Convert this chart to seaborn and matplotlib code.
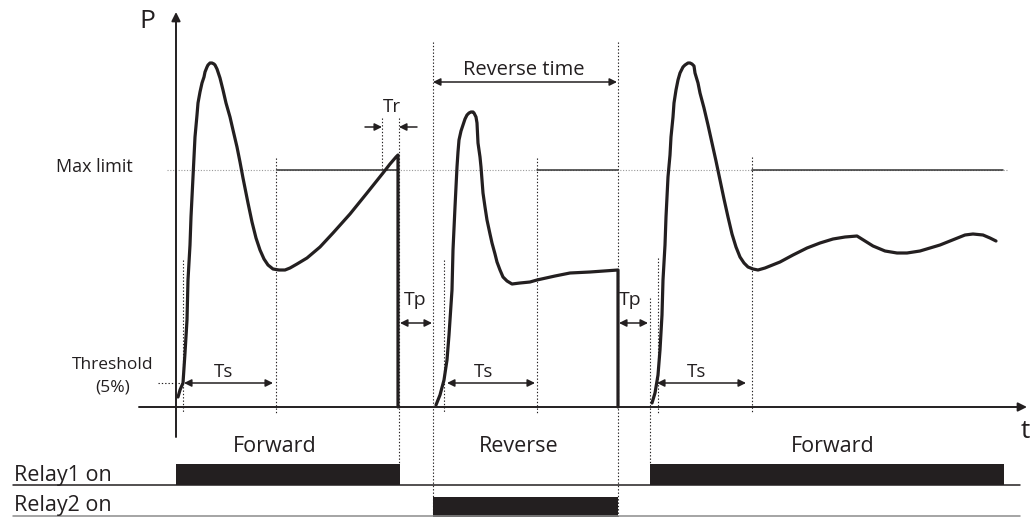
"""
Pressure / relay timing diagram (Forward - Reverse - Forward)
"""
import matplotlib
matplotlib.use("Agg")
import matplotlib.pyplot as plt
import seaborn as sns
import pandas as pd

# ---- data (pixel-ish units: x = time, y = P, axis at y=407, 0 at top) ----
# pulse 1 (forward, ends with max limit trip)
p1_x = [178, 180, 183, 185, 187, 188, 190, 191, 193, 195, 197, 198, 200, 202,
        204, 205, 207, 208, 210, 212, 214, 215, 217, 218, 220, 223, 226, 230,
        233, 237, 240, 243, 248, 252, 256, 260, 264, 268, 273, 279, 285, 290,
        297, 307, 320, 333, 350, 367, 383, 390, 396, 398, 398]
p1_y = [397, 390, 383, 353, 320, 280, 245, 217, 177, 137, 115, 103, 92, 83,
        77, 72, 67, 65, 63, 63, 64, 65, 69, 72, 78, 90, 103, 117, 130, 147,
        162, 178, 203, 222, 238, 250, 259, 265, 269, 270, 270, 268, 264, 258,
        247, 233, 214, 193, 173, 164, 157, 155, 407]
# pulse 2 (reverse)
p2_x = [436, 440, 444, 447, 449, 451, 452, 453, 455, 457, 458, 459, 461, 463,
        465, 467, 469, 471, 473, 474, 476, 477, 478, 480, 481, 483, 485, 487,
        490, 492, 495, 497, 500, 503, 507, 512, 520, 530, 537, 555, 570, 590,
        618, 618]
p2_y = [405, 395, 380, 360, 335, 305, 290, 250, 207, 167, 152, 140, 131, 125,
        119, 115, 113, 112, 112, 113, 117, 123, 143, 157, 167, 193, 207, 220,
        234, 243, 254, 262, 270, 277, 281, 284, 283, 282, 280, 276, 273, 272,
        270, 407]
# pulse 3 (forward again, settles under the limit)
p3_x = [652, 655, 658, 660, 662, 663, 665, 666, 668, 670, 671, 673, 674, 676,
        678, 680, 683, 685, 688, 690, 692, 694, 695, 698, 700, 704, 708, 712,
        716, 720, 724, 728, 732, 736, 740, 744, 748, 753, 758, 765, 770, 780,
        793, 807, 820, 833, 845, 857, 865, 873, 885, 897, 907, 920, 940, 955,
        965, 973, 983, 990, 996]
p3_y = [403, 393, 375, 350, 315, 280, 245, 217, 177, 155, 137, 117, 103, 90,
        80, 73, 67, 65, 63, 63, 64, 66, 73, 83, 93, 108, 125, 143, 161, 180,
        199, 217, 234, 247, 257, 263, 267, 269, 270, 268, 266, 262, 255, 248,
        243, 239, 237, 236, 241, 246, 251, 253, 253, 251, 245, 239, 235, 234,
        235, 238, 241]

max_limit_y = 170
max_limit_x = [(277, 398), (537, 618), (752, 1003)]

# relay on-intervals (start, end)
relay1_on = [(176, 400), (650, 1004)]
relay2_on = [(433, 618)]

# dotted markers (x, top, bottom)
marks_x = [183, 276, 382, 399, 433, 444, 537, 618, 650, 658, 752]
marks_top = [260, 158, 118, 118, 42, 260, 158, 42, 298, 258, 157]
marks_bot = [412, 413, 170, 464, 517, 413, 413, 517, 464, 413, 413]

phase_labels = ["Forward", "Reverse", "Forward"]
phase_x = [275, 519, 833]

ink = "#231f20"

sns.set_theme(style="white")
plt.rcParams["font.family"] = ["Open Sans", "DejaVu Sans"]

fig = plt.figure(figsize=(10.33, 5.17), dpi=100)
ax = fig.add_axes([0, 0, 1, 1])

# dotted guides
for x, t, b in zip(marks_x, marks_top, marks_bot):
    ax.plot([x, x], [t, b], color=ink, lw=0.8, ls=(0, (1.2, 1.8)), zorder=1)
ax.plot([167, 1008], [max_limit_y, max_limit_y], color="#9a9a9a", lw=0.8,
        ls=(0, (1, 1.5)), zorder=1)
ax.plot([158, 182], [383, 383], color=ink, lw=0.8, ls=(0, (1.2, 1.8)), zorder=1)

# max limit solid segments
for a, b in max_limit_x:
    ax.plot([a, b], [max_limit_y, max_limit_y], color="#333333", lw=1.1, zorder=2)

# pressure curves
for xs, ys in [(p1_x, p1_y), (p2_x, p2_y), (p3_x, p3_y)]:
    d = pd.DataFrame({"t": xs, "P": ys})
    sns.lineplot(data=d, x="t", y="P", sort=False, estimator=None, ax=ax,
                 color=ink, lw=2.3, zorder=3)
ax.set_xlabel("")
ax.set_ylabel("")
ax.set_xlim(0, 1033)
ax.set_ylim(517, 0)
ax.axis("off")

# axes with arrows
ax.annotate("", xy=(176, 12), xytext=(176, 437),
            arrowprops=dict(arrowstyle="-|>", color=ink, lw=1.4,
                            mutation_scale=13, shrinkA=0, shrinkB=0))
ax.annotate("", xy=(1027, 407), xytext=(139, 407),
            arrowprops=dict(arrowstyle="-|>", color=ink, lw=1.4,
                            mutation_scale=13, shrinkA=0, shrinkB=0))


def dim(x0, x1, y, style="<|-|>"):
    ax.annotate("", xy=(x1, y), xytext=(x0, y),
                arrowprops=dict(arrowstyle=style, color=ink, lw=1.1,
                                mutation_scale=11, shrinkA=0, shrinkB=0))


dim(184, 273, 383)
dim(447, 535, 383)
dim(657, 746, 383)
dim(400, 432, 323)
dim(619, 648, 323)
dim(433, 617, 82)
dim(365, 382, 127, "-|>")
dim(417, 399, 127, "-|>")

# relay bars and rails
for a, b in relay1_on:
    ax.fill_between([a, b], 464, 485, color=ink, lw=0)
for a, b in relay2_on:
    ax.fill_between([a, b], 497, 517, color=ink, lw=0)
ax.plot([13, 1020], [485, 485], color=ink, lw=1.1)
ax.plot([13, 1020], [516, 516], color="#8c8c8c", lw=1.1)

# texts
ax.text(147, 21, "P", fontsize=19, color=ink, ha="center", va="center")
ax.text(1030, 432, "t", fontsize=19, color=ink, ha="right", va="center")
ax.text(133, 167, "Max limit", fontsize=13, color=ink, ha="right", va="center")
ax.text(113, 365, "Threshold", fontsize=12.5, color=ink, ha="center", va="center")
ax.text(113, 388, "(5%)", fontsize=12.5, color=ink, ha="center", va="center")
for x in [224, 484, 697]:
    ax.text(x, 372, "Ts", fontsize=13.5, color=ink, ha="center", va="center")
for x in [415, 630]:
    ax.text(x, 300, "Tp", fontsize=14, color=ink, ha="center", va="center")
ax.text(392, 107, "Tr", fontsize=13.5, color=ink, ha="center", va="center")
ax.text(524, 70, "Reverse time", fontsize=14.5, color=ink, ha="center", va="center")
for lab, x in zip(phase_labels, phase_x):
    ax.text(x, 446, lab, fontsize=15.5, color=ink, ha="center", va="center")
ax.text(14, 475, "Relay1 on", fontsize=15.5, color=ink, ha="left", va="center")
ax.text(14, 505, "Relay2 on", fontsize=15.5, color=ink, ha="left", va="center")

fig.savefig("out.png", dpi=100)
